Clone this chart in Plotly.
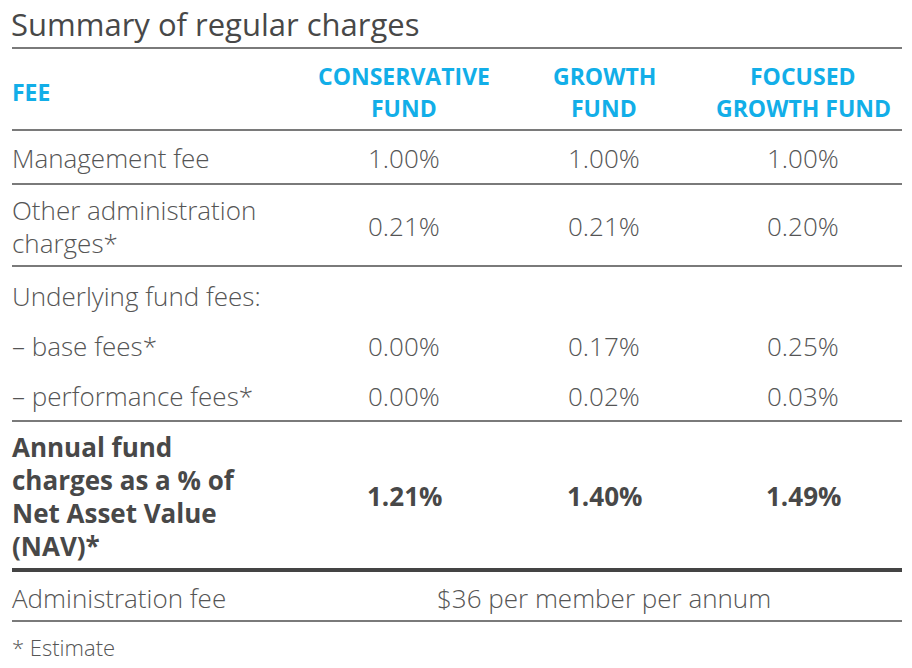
import plotly.graph_objects as go

# ---- data ----
title = "Summary of regular charges"
header_fee = "FEE"
funds = ["CONSERVATIVE<br>FUND", "GROWTH<br>FUND", "FOCUSED<br>GROWTH FUND"]
row_labels = [
    "Management fee",
    "Other administration<br>charges*",
    "Underlying fund fees:",
    "– base fees*",
    "– performance fees*",
    "Annual fund<br>charges as a % of<br>Net Asset Value<br>(NAV)*",
]
conservative = ["1.00%", "0.21%", "", "0.00%", "0.00%", "1.21%"]
growth = ["1.00%", "0.21%", "", "0.17%", "0.02%", "1.40%"]
focused = ["1.00%", "0.20%", "", "0.25%", "0.03%", "1.49%"]
admin_label = "Administration fee"
admin_value = "$36 per member per annum"
footnote = "* Estimate"

# ---- layout / style ----
W, H = 912, 668
BLUE = "#12aee8"
TEXT = "#555555"
DARK = "#484848"
FONT = "Open Sans"
LEFT, RIGHT = 12, 902
TX = 10
col_centers = [404, 604, 803]
row_centers = [158, 226, 296, 346, 396, 496]
row_line_gap = 33
bold_rows = [5]
BODY = 26

fig = go.Figure()
ann = []
shapes = []

def text(x, y, s, size, color, weight=300, anchor="left"):
    ann.append(dict(x=x, y=y, xref="x", yref="y", text=s, showarrow=False,
                    xanchor=anchor, yanchor="middle",
                    font=dict(family=FONT, size=size, color=color, weight=weight)))

def hline(y, width=2, color="#7a7a7a"):
    shapes.append(dict(type="line", xref="x", yref="y", x0=LEFT, x1=RIGHT,
                       y0=y, y1=y, line=dict(color=color, width=width)))

# title
text(TX - 1, 24, title, 31, DARK, weight=400)
hline(48)

# header
text(TX, 92, header_fee, 23, BLUE, weight=700)
for cx, f in zip(col_centers, funds):
    lines = f.split("<br>")
    for i, ln in enumerate(lines):
        text(cx, 76 + i * 32, ln, 23, BLUE, weight=700, anchor="center")
hline(130)

# body rows
for r, (lab, c, g, fo) in enumerate(zip(row_labels, conservative, growth, focused)):
    yc = row_centers[r]
    weight = 700 if r in bold_rows else 300
    color = DARK if r in bold_rows else TEXT
    lines = lab.split("<br>")
    n = len(lines)
    for i, ln in enumerate(lines):
        y = yc + (i - (n - 1) / 2) * row_line_gap
        text(TX, y, ln, BODY, color, weight=weight)
    for cx, v in zip(col_centers, [c, g, fo]):
        if v:
            text(cx, yc, v, BODY, color, weight=weight, anchor="center")

hline(184)
hline(266)
hline(421)
hline(570, width=4, color="#444444")

# admin fee
text(TX, 598, admin_label, BODY, TEXT)
text(col_centers[1], 598, admin_value, BODY, TEXT, anchor="center")
hline(621)

# footnote
text(TX, 647, footnote, 22, TEXT)

fig.update_layout(
    width=W, height=H, margin=dict(l=0, r=0, t=0, b=0),
    paper_bgcolor="white", plot_bgcolor="white",
    xaxis=dict(range=[0, W], visible=False, fixedrange=True),
    yaxis=dict(range=[H, 0], visible=False, fixedrange=True),
    annotations=ann, shapes=shapes, showlegend=False,
)
fig.write_html("out.html", config={"displayModeBar": False},
               post_script="document.body.style.margin='0';")
